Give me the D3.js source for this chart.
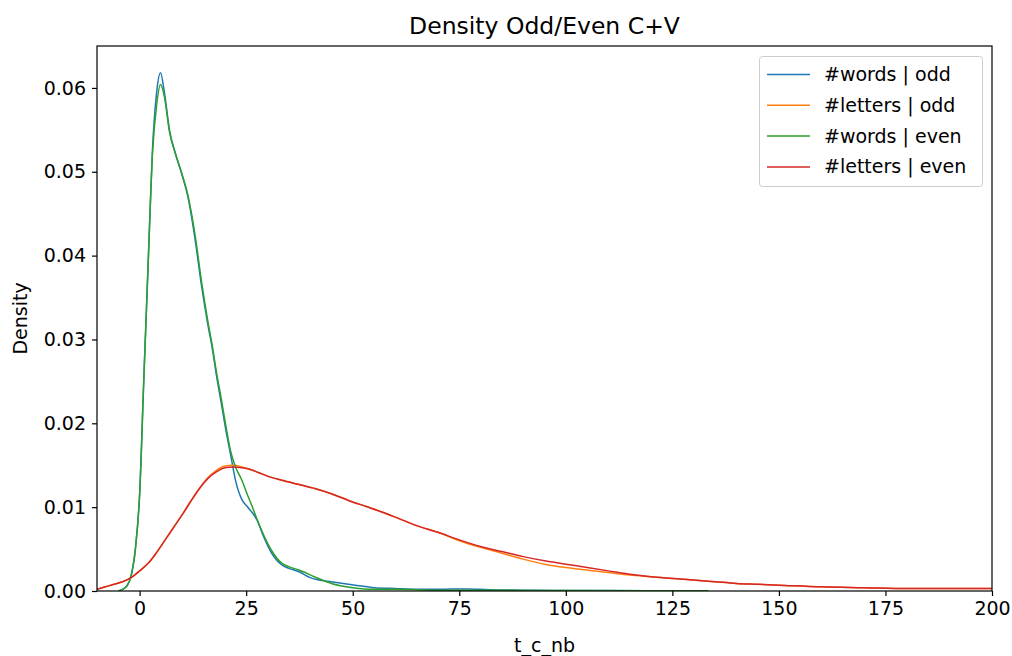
<!DOCTYPE html>
<html><head><meta charset="utf-8">
<script src="https://cdn.jsdelivr.net/npm/d3@7"></script>
<style>body{margin:0;background:#fff;} text{font-family:"DejaVu Sans",sans-serif;fill:#000;}</style>
</head><body>
<svg id="chart" width="1012" height="656"></svg>
<script>
const title = "Density Odd/Even C+V";
const xLabel = "t_c_nb";
const yLabel = "Density";
const xTicks = [0, 25, 50, 75, 100, 125, 150, 175, 200];
const yTicks = [0, 0.01, 0.02, 0.03, 0.04, 0.05, 0.06];
const seriesNames = ["#words | odd", "#letters | odd", "#words | even", "#letters | even"];
const seriesColors = ["#1f77b4", "#ff7f0e", "#2ca02c", "#d62728"];

const wordsOddX = [-5,-4,-3,-2,-1,0,1,2,3,4,4.9,5.8,7,8.5,9.6,11.5,13,14.5,16,17,18,19.3,20.3,21.3,22.5,24,25.2,26.5,27.5,29,31,33.4,35,37.4,40,42,45,49,52,55,60,65,70,77,82,90,100,110,125,130];
const wordsOddY = [0,0.0002,0.0006,0.0018,0.005,0.0115,0.0255,0.039,0.0525,0.0595,0.0618,0.0595,0.055,0.052,0.0502,0.0466,0.042,0.0365,0.0318,0.0291,0.0258,0.022,0.019,0.0164,0.0132,0.0109,0.0101,0.0093,0.0085,0.0066,0.0045,0.0031,0.0027,0.0023,0.0016,0.0013,0.0011,0.0008,0.0006,0.0004,0.0003,0.0002,0.0002,0.00025,0.00015,0.0001,0.00005,0.00005,0.00003,0];

const wordsEvenX = [-5,-4,-3,-2,-1,0,1,2,3,4,4.9,5.8,7,8.5,9.6,11.5,13,14.5,16,17,18,19.3,20.3,21.3,22.5,24,25.2,26.4,27.6,29,31,33.4,35,37.4,41,45,50,55,60,70,80,100,120,133.5];
const wordsEvenY = [0,0.0002,0.0006,0.0018,0.005,0.0115,0.0255,0.039,0.052,0.058,0.0604,0.059,0.0548,0.052,0.0503,0.0468,0.0425,0.037,0.0322,0.0294,0.0262,0.0225,0.0195,0.0168,0.0148,0.0132,0.0116,0.0101,0.0085,0.0068,0.0048,0.0033,0.0029,0.0025,0.0017,0.0009,0.0004,0.0002,0.0002,0.0001,0.0001,0.00005,0.00003,0.00002];

const lettersOddX = [-10,-8,-6,-4,-2,0,2,4,6,8,10,12,14,16,18,20,22,24,26,28,30,33.4,37.4,41.3,45,49,53,57,61,65,70,75,80,85,90,95,100,105,110,115,120,125,130,135,140,145,150,160,170,180,190,200];
const lettersOddY = [0.0002,0.0005,0.0008,0.0011,0.0016,0.0024,0.0033,0.0046,0.0061,0.0076,0.0091,0.0107,0.0122,0.0135,0.0144,0.0149,0.0150,0.0148,0.0145,0.0141,0.0137,0.0132,0.0127,0.0122,0.0116,0.0108,0.0101,0.0094,0.0086,0.0078,0.007,0.006,0.0052,0.0045,0.0038,0.0032,0.0028,0.0025,0.0022,0.0019,0.0017,0.0015,0.0013,0.0011,0.0009,0.0008,0.0007,0.0005,0.0004,0.0003,0.0003,0.0003];

const lettersEvenX = [-10,-8,-6,-4,-2,0,2,4,6,8,10,12,14,16,18,20,22,24,26,28,30,33.4,37.4,41.3,45,49,53,57,61,65,70,75,80,85,90,95,100,105,110,115,120,125,130,135,140,145,150,160,170,180,190,200];
const lettersEvenY = [0.0002,0.0005,0.0008,0.0011,0.0016,0.0024,0.0033,0.0046,0.0061,0.0076,0.0091,0.0107,0.0122,0.0134,0.0142,0.0147,0.0148,0.0147,0.0145,0.0141,0.0137,0.0132,0.0127,0.0122,0.0116,0.0108,0.0101,0.0094,0.0086,0.0078,0.007,0.0061,0.0053,0.0047,0.0041,0.0036,0.0032,0.0028,0.0024,0.002,0.0017,0.0015,0.0013,0.0011,0.0009,0.0008,0.0007,0.0005,0.0004,0.0003,0.0003,0.0003];

const seriesX = [wordsOddX, lettersOddX, wordsEvenX, lettersEvenX];
const seriesY = [wordsOddY, lettersOddY, wordsEvenY, lettersEvenY];

const svg = d3.select("#chart");
const L = 97, R = 992, T = 46, B = 591;
const x = d3.scaleLinear().domain([-10, 200]).range([L, R]);
const y = d3.scaleLinear().domain([0, 0.065]).range([B, T]);

const defs = svg.append("defs");
defs.append("clipPath").attr("id", "clip").append("rect").attr("x", L).attr("y", T).attr("width", R - L).attr("height", B - T);

const line = d3.line().x(d => x(d[0])).y(d => y(d[1])).curve(d3.curveMonotoneX);
const g = svg.append("g").attr("clip-path", "url(#clip)");
seriesX.forEach((xs, i) => {
  const pts = xs.map((v, j) => [v, seriesY[i][j]]);
  g.append("path").attr("d", line(pts)).attr("fill", "none")
    .attr("stroke", seriesColors[i]).attr("stroke-width", 1.5);
});

// axes
const fs = 19;
const xAxis = svg.append("g").attr("transform", `translate(0,${B})`)
  .call(d3.axisBottom(x).tickValues(xTicks).tickSize(5).tickPadding(6).tickFormat(d3.format("d")));
const yAxis = svg.append("g").attr("transform", `translate(${L},0)`)
  .call(d3.axisLeft(y).tickValues(yTicks).tickSize(5).tickPadding(6).tickFormat(d3.format(".2f")));
[xAxis, yAxis].forEach(a => {
  a.select(".domain").remove();
  a.selectAll("line").attr("stroke", "#000").attr("stroke-width", 1.2);
  a.selectAll("text").attr("font-size", fs).attr("font-family", "DejaVu Sans").attr("fill", "#000");
});

// frame
svg.append("rect").attr("x", L).attr("y", T).attr("width", R - L).attr("height", B - T)
  .attr("fill", "none").attr("stroke", "#000").attr("stroke-width", 1.2);

// title and labels
svg.append("text").attr("x", (L + R) / 2).attr("y", 34).attr("text-anchor", "middle").attr("font-size", 23.5).text(title);
svg.append("text").attr("x", (L + R) / 2).attr("y", 652).attr("text-anchor", "middle").attr("font-size", fs).text(xLabel);
svg.append("text").attr("transform", `translate(27,${(T + B) / 2}) rotate(-90)`).attr("text-anchor", "middle").attr("font-size", fs).text(yLabel);

// legend
const lg = svg.append("g");
lg.append("rect").attr("x", 759.5).attr("y", 56.5).attr("width", 223).attr("height", 130).attr("rx", 3)
  .attr("fill", "#fff").attr("fill-opacity", 0.8).attr("stroke", "#ccc").attr("stroke-width", 1);
seriesNames.forEach((n, i) => {
  const yy = 74.5 + i * 30.8;
  lg.append("line").attr("x1", 767).attr("x2", 810).attr("y1", yy).attr("y2", yy)
    .attr("stroke", seriesColors[i]).attr("stroke-width", 1.5);
  lg.append("text").attr("x", 824).attr("y", yy + 6.5).attr("font-size", fs).text(n);
});
</script>
</body></html>
